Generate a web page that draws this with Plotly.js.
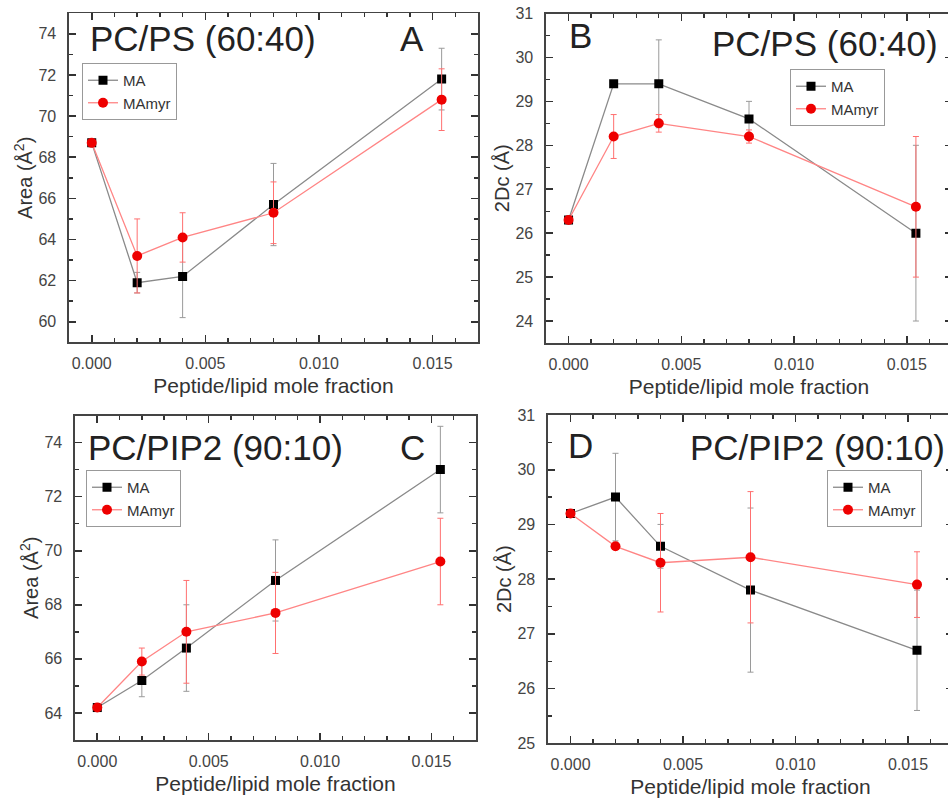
<!DOCTYPE html>
<html>
<head>
<meta charset="utf-8">
<script src="https://cdn.plot.ly/plotly-3.0.1.min.js"></script>
<style>
html,body{margin:0;padding:0;overflow:hidden;background:#fff;}
#chart{width:1000px;height:798px;}
</style>
</head>
<body>
<div id="chart"></div>
<script>
// Peptide/lipid mole fraction
const molFrac = [0, 0.002, 0.004, 0.008, 0.0154];
const seriesNames = ["MA", "MAmyr"];

// Panel A: PC/PS (60:40) area
const areaPS_MA = [68.7, 61.9, 62.2, 65.7, 71.8];
const areaPS_MA_err = [0, 0.5, 2.0, 2.0, 1.5];
const areaPS_MAmyr = [68.7, 63.2, 64.1, 65.3, 70.8];
const areaPS_MAmyr_err = [0, 1.8, 1.2, 1.5, 1.5];

// Panel B: PC/PS (60:40) 2Dc
const dcPS_MA = [26.3, 29.4, 29.4, 28.6, 26.0];
const dcPS_MA_err = [0, 0.05, 1.0, 0.4, 2.0];
const dcPS_MAmyr = [26.3, 28.2, 28.5, 28.2, 26.6];
const dcPS_MAmyr_err = [0, 0.5, 0.2, 0.15, 1.6];

// Panel C: PC/PIP2 (90:10) area
const areaPIP_MA = [64.2, 65.2, 66.4, 68.9, 73.0];
const areaPIP_MA_err = [0, 0.6, 1.6, 1.5, 1.6];
const areaPIP_MAmyr = [64.2, 65.9, 67.0, 67.7, 69.6];
const areaPIP_MAmyr_err = [0, 0.5, 1.9, 1.5, 1.6];

// Panel D: PC/PIP2 (90:10) 2Dc
const dcPIP_MA = [29.2, 29.5, 28.6, 27.8, 26.7];
const dcPIP_MA_err = [0, 0.8, 0.4, 1.5, 1.1];
const dcPIP_MAmyr = [29.2, 28.6, 28.3, 28.4, 27.9];
const dcPIP_MAmyr_err = [0, 0.05, 0.9, 1.2, 0.6];

const panelTitles = ["PC/PS (60:40)", "PC/PS (60:40)", "PC/PIP2 (90:10)", "PC/PIP2 (90:10)"];
const panelLetters = ["A", "B", "C", "D"];
const xTitle = "Peptide/lipid mole fraction";
const yTitles = ["Area (Å<sup>2</sup>)", "2Dc (Å)", "Area (Å<sup>2</sup>)", "2Dc (Å)"];
const xTickVals = [0, 0.005, 0.010, 0.015];
const xTickText = ['0.000', '0.005', '0.010', '0.015'];

const FONT = "Arial, 'Liberation Sans', sans-serif";

function pair(ma, maErr, myr, myrErr, ax, leg) {
  const xa = ax === 1 ? 'x' : 'x' + ax;
  const ya = ax === 1 ? 'y' : 'y' + ax;
  return [
    {
      x: molFrac, y: ma, name: seriesNames[0], type: 'scatter', mode: 'lines+markers',
      xaxis: xa, yaxis: ya, legend: leg, showlegend: true,
      line: {color: '#8a8a8a', width: 1.3},
      marker: {symbol: 'square', size: 9, color: '#000'},
      error_y: {type: 'data', array: maErr, visible: true, color: '#9a9a9a', thickness: 1, width: 3}
    },
    {
      x: molFrac, y: myr, name: seriesNames[1], type: 'scatter', mode: 'lines+markers',
      xaxis: xa, yaxis: ya, legend: leg, showlegend: true,
      line: {color: '#ff8585', width: 1.3},
      marker: {symbol: 'circle', size: 10, color: '#ee0000'},
      error_y: {type: 'data', array: myrErr, visible: true, color: '#ff7070', thickness: 1, width: 3}
    }
  ];
}

const data = [].concat(
  pair(areaPS_MA, areaPS_MA_err, areaPS_MAmyr, areaPS_MAmyr_err, 1, 'legend'),
  pair(dcPS_MA, dcPS_MA_err, dcPS_MAmyr, dcPS_MAmyr_err, 2, 'legend2'),
  pair(areaPIP_MA, areaPIP_MA_err, areaPIP_MAmyr, areaPIP_MAmyr_err, 3, 'legend3'),
  pair(dcPIP_MA, dcPIP_MA_err, dcPIP_MAmyr, dcPIP_MAmyr_err, 4, 'legend4')
);

function xax(domain, anchor) {
  return {
    domain: domain, anchor: anchor, range: [-0.001, 0.017],
    tickmode: 'array', tickvals: xTickVals, ticktext: xTickText,
    ticks: 'inside', ticklen: 7, tickwidth: 1.6, tickcolor: '#333',
    minor: {tickmode: 'linear', dtick: 0.001, tick0: 0, ticks: 'inside', ticklen: 4, tickwidth: 1.4, tickcolor: '#333', showgrid: false},
    showline: true, linecolor: '#444', linewidth: 1.6, mirror: 'ticks',
    showgrid: false, zeroline: false,
    tickfont: {family: FONT, size: 16, color: '#444'},
    ticklabelstandoff: 6,
    title: {text: xTitle, font: {family: FONT, size: 21, color: '#333'}, standoff: 7}
  };
}
function yax(domain, anchor, range, dtick, minorD, title) {
  return {
    domain: domain, anchor: anchor, range: range, dtick: dtick, tick0: 0,
    ticks: 'inside', ticklen: 7, tickwidth: 1.6, tickcolor: '#333',
    minor: {dtick: minorD, tick0: 0, ticks: 'inside', ticklen: 4, tickwidth: 1.4, tickcolor: '#333', showgrid: false},
    showline: true, linecolor: '#444', linewidth: 1.6, mirror: 'ticks',
    showgrid: false, zeroline: false,
    tickfont: {family: FONT, size: 16, color: '#444'},
    ticklabelstandoff: 8,
    title: {text: title, font: {family: FONT, size: 20, color: '#333'}, standoff: 0}
  };
}

function legendAt(x, y) {
  return {
    x: x, y: y, xanchor: 'left', yanchor: 'top',
    bgcolor: 'rgba(255,255,255,0)', bordercolor: '#999', borderwidth: 1,
    font: {family: FONT, size: 15, color: '#333'},
    tracegroupgap: 0, itemwidth: 30
  };
}

function ann(text, x, y, xanchor) {
  return {text: text, x: x, y: y, xref: 'paper', yref: 'paper', xanchor: xanchor, yanchor: 'middle',
    showarrow: false, font: {family: FONT, size: 35, color: '#222'}};
}

const W = 1000, H = 798;
const px = v => v / W, py = v => 1 - v / H;

const layout = {
  width: W, height: H,
  margin: {l: 0, r: 0, t: 0, b: 0},
  paper_bgcolor: '#fff', plot_bgcolor: '#fff',
  showlegend: true,
  xaxis: xax([px(69), px(478)], 'y'),
  yaxis: yax([py(342.3), py(13.3)], 'x', [59, 75], 2, 1, yTitles[0]),
  xaxis2: xax([px(546), px(952)], 'y2'),
  yaxis2: yax([py(343), py(13.5)], 'x2', [23.5, 31], 1, 0.5, yTitles[1]),
  xaxis3: xax([px(75), px(476)], 'y3'),
  yaxis3: yax([py(740), py(415.5)], 'x3', [63, 75], 2, 1, yTitles[2]),
  xaxis4: xax([px(548), px(953)], 'y4'),
  yaxis4: yax([py(743.3), py(415)], 'x4', [25, 31], 1, 0.5, yTitles[3]),
  legend: legendAt(px(82), py(63)),
  legend2: legendAt(px(790), py(69)),
  legend3: legendAt(px(86), py(470)),
  legend4: legendAt(px(827), py(470)),
  annotations: [
    ann(panelTitles[0], px(88), py(38), 'left'),
    ann(panelLetters[0], px(412), py(38), 'center'),
    ann(panelLetters[1], px(567), py(35), 'left'),
    ann(panelTitles[1], px(940), py(43), 'right'),
    ann(panelTitles[2], px(86), py(447), 'left'),
    ann(panelLetters[2], px(412), py(447), 'center'),
    ann(panelLetters[3], px(566), py(445), 'left'),
    ann(panelTitles[3], px(947), py(447), 'right')
  ]
};

Plotly.newPlot('chart', data, layout, {displayModeBar: false, staticPlot: true});
</script>
</body>
</html>
